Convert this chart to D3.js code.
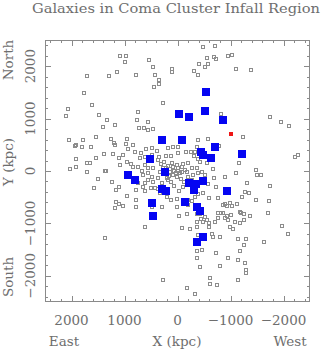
<!DOCTYPE html>
<html>
<head>
<meta charset="utf-8">
<script src="https://cdn.jsdelivr.net/npm/d3@7/dist/d3.min.js"></script>
<style>
  html, body { margin: 0; padding: 0; background: #fff; }
  svg { display: block; }
  text { font-family: "DejaVu Serif", "Liberation Serif", serif; fill: #6e6e6e; }
</style>
</head>
<body>
<script>
// Projected positions (kpc) of galaxies around the Coma cluster.
// Field galaxies (open squares)
const galX = [-475,-710,1085,980,530,-565,-690,-960,-1030,-725,990,-410,470,-570,110,105,-310,-510,-1105,-1380,
  1140,1700,1300,790,425,-395,345,355,445,1760,280,1615,2065,2105,1475,1335,745,765,555,1175,
  1400,735,625,550,470,-820,-1740,-1960,-2105,2045,1775,1540,1255,1190,1180,960,980,840,1910,1940,
  1795,1640,-395,-575,-375,-1240,-785,1385,1225,1030,935,800,715,695,615,595,490,475,395,345,
  215,185,80,125,0,-15,-165,-250,-325,-395,-315,-1180,-1165,1545,1715,1655,1915,1920,2035,-2225,
  -2265,360,310,260,175,135,90,60,15,-15,-45,-80,-110,-140,-185,-205,-265,15,80,160,
  265,330,455,550,550,645,615,740,835,675,-205,-60,-130,-360,-425,-550,-395,-455,-110,-30,
  60,125,185,300,360,455,550,615,645,740,785,615,505,375,1090,960,875,1110,1350,1365,
  1495,1715,1230,1165,1100,1580,945,790,785,1160,1180,1110,1035,1360,605,-675,-895,-1105,-1480,-1575,
  -1505,-1305,-1740,-1280,-1345,-1215,-1475,-1725,-1700,-1965,-2090,-1625,-720,-695,-580,-760,-600,-485,-395,-330,
  -265,-190,15,125,205,330,300,490,15,-205,-30,-80,-240,-185,-370,-435,-485,-550,-600,-705,
  -770,-770,-815,-865,-895,-930,-995,-1035,-1120,-1180,-1200,-1250,-1375,-1010,-935,-895,-865,-955,-990,-1040,
  -1085,-1180,-1255,-800,-1150,-1285,-1250,-1180,-725,-960,-1135,-1275,-1285,-1300,-795,-430,-360,-370,-455,-370,
  -395,-595,-645,-675,-615,-605,-750,-1135,280,-175,-335,-425,-520,-455,-360,140,35,110,225,0,
  -80,-300,265,205,490,425,-265,-520];
const galY = [2360,2390,2200,2195,2125,2165,2180,2190,2220,2130,2085,2050,1990,2040,1955,1885,1910,1990,1955,1935,
  1885,1815,1820,1840,1840,1825,1745,1660,1595,1480,1305,1265,1185,1045,1060,980,1120,975,940,885,
  840,820,825,790,800,1080,1030,940,860,600,585,650,610,535,490,610,510,505,490,470,
  450,450,590,610,450,650,485,320,320,305,415,365,240,335,260,415,435,300,380,260,
  295,435,460,295,465,335,365,355,365,225,285,305,160,250,145,160,225,75,45,275,
  300,205,140,180,95,45,85,5,115,50,-30,85,135,20,-15,145,50,-110,-75,-95,
  -55,-15,50,65,-30,-75,115,85,85,5,-120,-160,-205,65,180,145,-45,-15,-300,-375,
  -280,-205,-170,-235,-140,-205,-170,-235,-305,-235,-360,-380,-330,-345,115,165,140,240,-5,5,
  -145,-15,-215,-355,-305,-320,-470,-555,-680,-590,-700,-630,-675,-1280,-1060,45,-115,-30,25,-75,
  -75,-225,-285,-395,-425,-495,-555,-570,-800,-1045,-1195,-1360,-300,-140,-255,-510,-510,-425,-440,-490,
  -570,-555,-540,-555,-490,-425,-680,-680,-680,-650,-850,-1080,-1100,-820,-815,-915,-965,-935,-990,-965,
  -890,-810,-795,-640,-635,-660,-615,-670,-630,-775,-810,-820,-850,-845,-850,-890,-810,-935,-1060,-1115,
  -965,-1000,-935,-1265,-1300,-1300,-1420,-1520,-1560,-1665,-1690,-1760,-1890,-1945,-1815,-1830,-1520,-1665,-1500,-1060,
  -1220,-1070,-1195,-1260,-2050,-2155,-2175,-2075,-2075,-2240,-2355,-825,-870,-775,-965,-15,-45,145,50,0,
  -15,-75,50,-140,-110,-330,-170,-75];

// Infalling group members (filled blue squares)
const infallX = [-540,-510,-20,-220,-850,290,-80,-700,-440,-480,-1210,-630,520,240,930,
  810,-220,-350,-490,300,220,-320,-930,-150,490,-370,-420,460,-490,-370];
const infallY = [1510,1150,1080,1030,980,600,600,450,370,300,320,240,220,-10,-70,
  -170,-220,-240,-190,-340,-390,-360,-390,-600,-610,-680,-770,-850,-1260,-1350];

// Highlighted object (red)
const markX = [-1000];
const markY = [700];

// Axis ticks and labels
const xTicks = [2000, 1000, 0, -1000, -2000];
const xTickLabels = ["2000", "1000", "0", "\u22121000", "\u22122000"];
const yTicks = [2000, 1000, 0, -1000, -2000];
const yTickLabels = ["2000", "1000", "0", "\u22121000", "\u22122000"];
const titleText = "Galaxies in Coma Cluster Infall Region";

const W = 324, H = 350;
const mLeft = 45, mRight = 310, mTop = 40, mBottom = 302;

const svg = d3.select("body").append("svg").attr("width", W).attr("height", H);

const x = d3.scaleLinear().domain([2500, -2500]).range([mLeft, mRight]);
const y = d3.scaleLinear().domain([-2500, 2500]).range([mBottom, mTop]);

const frameColor = "#8a8a8a";

// Frame
svg.append("rect")
  .attr("x", mLeft + 0.5).attr("y", mTop + 0.5)
  .attr("width", mRight - mLeft - 1).attr("height", mBottom - mTop - 1)
  .attr("fill", "none").attr("stroke", frameColor).attr("stroke-width", 1);

// Inward ticks on all four sides
const minor = d3.range(-2400, 2401, 200);
const tickLen = v => (v % 1000 === 0 ? 6 : 3);
const tg = svg.append("g").attr("stroke", frameColor).attr("stroke-width", 1);
minor.forEach(v => {
  const px = Math.round(x(v)) + 0.5;
  tg.append("line").attr("x1", px).attr("x2", px).attr("y1", mBottom).attr("y2", mBottom - tickLen(v));
  tg.append("line").attr("x1", px).attr("x2", px).attr("y1", mTop).attr("y2", mTop + tickLen(v));
  const py = Math.round(y(v)) + 0.5;
  tg.append("line").attr("y1", py).attr("y2", py).attr("x1", mLeft).attr("x2", mLeft + tickLen(v));
  tg.append("line").attr("y1", py).attr("y2", py).attr("x1", mRight).attr("x2", mRight - tickLen(v));
});

// Field galaxies
const gal = galX.map((v, i) => [v, galY[i]]);
svg.append("g").selectAll("rect").data(gal).join("rect")
  .attr("x", d => Math.round(x(d[0])) - 1.5)
  .attr("y", d => Math.round(y(d[1])) - 1.5)
  .attr("width", 3).attr("height", 3)
  .attr("fill", "none").attr("stroke", "#8c8c8c").attr("stroke-width", 1);

// Infalling members
const inf = infallX.map((v, i) => [v, infallY[i]]);
svg.append("g").selectAll("rect").data(inf).join("rect")
  .attr("x", d => Math.round(x(d[0])) - 4)
  .attr("y", d => Math.round(y(d[1])) - 4)
  .attr("width", 8).attr("height", 8)
  .attr("fill", "#0505f2");

// Highlighted object
const mk = markX.map((v, i) => [v, markY[i]]);
svg.append("g").selectAll("rect").data(mk).join("rect")
  .attr("x", d => Math.round(x(d[0])) - 2)
  .attr("y", d => Math.round(y(d[1])) - 2)
  .attr("width", 4).attr("height", 4)
  .attr("fill", "#ee1515");

// Title
svg.append("text")
  .attr("x", 32).attr("y", 13)
  .attr("font-size", 13.5)
  .attr("textLength", 288).attr("lengthAdjust", "spacingAndGlyphs")
  .text(titleText);

// X tick labels
svg.append("g").selectAll("text").data(xTicks).join("text")
  .attr("x", d => x(d)).attr("y", 325)
  .attr("text-anchor", "middle").attr("font-size", 13.5)
  .text((d, i) => xTickLabels[i]);

// X axis labels
svg.append("text").attr("x", 64).attr("y", 346).attr("text-anchor", "middle").attr("font-size", 13.5).text("East");
svg.append("text").attr("x", 177).attr("y", 346).attr("text-anchor", "middle").attr("font-size", 13.5).text("X (kpc)");
svg.append("text").attr("x", 290).attr("y", 346).attr("text-anchor", "middle").attr("font-size", 13.5).text("West");

// Y tick labels (rotated)
svg.append("g").selectAll("text").data(yTicks).join("text")
  .attr("transform", d => `translate(35,${y(d)}) rotate(-90)`)
  .attr("text-anchor", "middle").attr("font-size", 13.5)
  .text((d, i) => yTickLabels[i]);

// Y axis labels
const yLab = (txt, cy) => svg.append("text")
  .attr("transform", `translate(13,${cy}) rotate(-90)`)
  .attr("text-anchor", "middle").attr("font-size", 13.5).text(txt);
yLab("North", 60);
yLab("Y (kpc)", 162);
yLab("South", 277);
</script>
</body>
</html>
